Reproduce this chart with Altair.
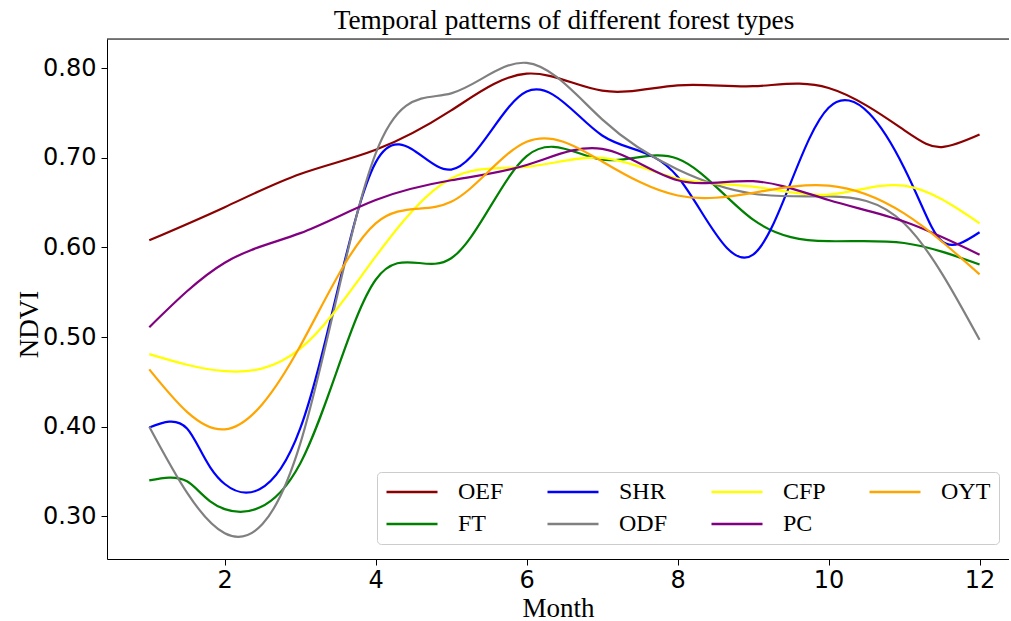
import altair as alt
import pandas as pd

months = [1, 2, 3, 4, 5, 6, 7, 8, 9, 10, 11, 12]
months_OEF = [1, 2, 3, 4, 5, 6, 7, 8, 9, 10, 11, 11.5, 12]
months_FT = [1, 1.5, 2, 3, 4, 5, 6, 7, 8, 9, 10, 11, 12]
months_SHR = [1, 1.5, 2, 3, 4, 5, 6, 7, 8, 9, 10, 11, 11.5, 12]

series_order = ["OEF", "FT", "SHR", "ODF", "CFP", "PC", "OYT"]
colors = {"OEF": "#8b0000", "SHR": "#0000ff", "CFP": "#ffff00", "OYT": "#ffa500",
          "FT": "#008000", "ODF": "#808080", "PC": "#800080"}

OEF = [0.608, 0.645, 0.682, 0.709, 0.753, 0.794, 0.775, 0.781, 0.780, 0.778, 0.731, 0.712, 0.726]
FT = [0.340, 0.339, 0.308, 0.359, 0.564, 0.588, 0.702, 0.698, 0.699, 0.631, 0.607, 0.605, 0.581]
SHR = [0.399, 0.398, 0.336, 0.398, 0.695, 0.687, 0.774, 0.725, 0.679, 0.592, 0.756, 0.689, 0.607, 0.617]
ODF = [0.400, 0.281, 0.381, 0.705, 0.772, 0.806, 0.743, 0.687, 0.660, 0.657, 0.627, 0.497]
CFP = [0.481, 0.462, 0.487, 0.590, 0.677, 0.690, 0.700, 0.677, 0.668, 0.659, 0.669, 0.627]
PC = [0.511, 0.583, 0.616, 0.653, 0.675, 0.692, 0.710, 0.675, 0.674, 0.653, 0.629, 0.592]
OYT = [0.464, 0.397, 0.490, 0.627, 0.651, 0.718, 0.696, 0.658, 0.661, 0.669, 0.638, 0.570]

series = {
    "OEF": (months_OEF, OEF), "FT": (months_FT, FT), "SHR": (months_SHR, SHR),
    "ODF": (months, ODF), "CFP": (months, CFP), "PC": (months, PC), "OYT": (months, OYT),
}
rows = []
for name in series_order:
    ms, vs = series[name]
    for m, v in zip(ms, vs):
        rows.append({"Month": m, "NDVI": v, "Type": name})
df = pd.DataFrame(rows)

x_ticks = [2, 4, 6, 8, 10, 12]
y_ticks = [0.3, 0.4, 0.5, 0.6, 0.7, 0.8]

W, H = 902, 520

lines = alt.Chart(df).mark_line(interpolate="natural", strokeWidth=2.2).encode(
    x=alt.X("Month:Q", scale=alt.Scale(domain=[0.44, 12.39], nice=False, zero=False),
            axis=alt.Axis(values=x_ticks, format="d", labelFont="DejaVu Sans", labelFontSize=24,
                          labelColor="black", tickSize=6, tickColor="black", domainColor="black",
                          labelPadding=3, grid=False, title="Month", titleFont="Liberation Serif",
                          titleFontSize=27, titleFontWeight="normal", titleColor="black",
                          titleY=57, titleBaseline="alphabetic")),
    y=alt.Y("NDVI:Q", scale=alt.Scale(domain=[0.2523, 0.8327], nice=False, zero=False),
            axis=alt.Axis(values=y_ticks, format=".2f", labelFont="DejaVu Sans", labelFontSize=24,
                          labelColor="black", tickSize=6, tickColor="black", domainColor="black",
                          labelPadding=5, grid=False, title="NDVI", titleFont="Liberation Serif",
                          titleFontSize=27, titleFontWeight="normal", titleColor="black",
                          titleX=-70, titleY=H / 2 + 25, titleBaseline="alphabetic", titleAngle=270)),
    color=alt.Color("Type:N",
                    scale=alt.Scale(domain=series_order, range=[colors[k] for k in series_order]),
                    legend=alt.Legend(title=None, orient="none", legendX=270, legendY=433,
                                      columns=4, columnPadding=42, rowPadding=8, clipHeight=24,
                                      direction="vertical",
                                      symbolType="stroke", symbolSize=2601, symbolStrokeWidth=2.5,
                                      labelFont="Liberation Serif", labelFontSize=24,
                                      labelColor="black", labelOffset=19, padding=8,
                                      strokeColor="#cccccc", fillColor="white", cornerRadius=4)),
    detail="Type:N",
)

frame_top = alt.Chart(pd.DataFrame({"a": [0]})).mark_rule(color="black", strokeWidth=1).encode(
    y=alt.value(0), x=alt.value(0), x2=alt.value(W)
)

chart = alt.layer(lines, frame_top).properties(
    width=W, height=H,
    title=alt.TitleParams(text="Temporal patterns of different forest types",
                          font="Liberation Serif", fontSize=27.3, fontWeight="normal",
                          color="black", anchor="middle", dx=6, offset=-18, baseline="alphabetic",
                          frame="group"),
    padding={"left": 107, "top": 39, "right": 0, "bottom": 62},
    autosize=alt.AutoSizeParams(type="none"),
).configure_view(strokeWidth=0).configure(background="white")

chart.save("out.html", embed_options={"renderer": "svg", "actions": False})
